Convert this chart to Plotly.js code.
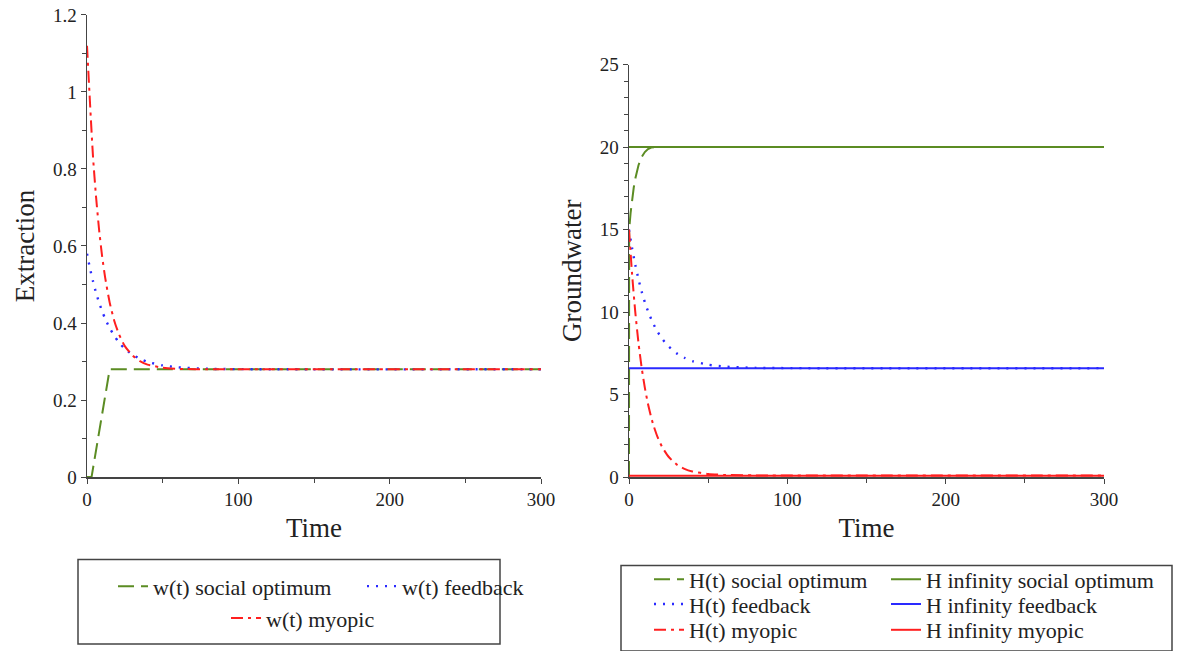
<!DOCTYPE html>
<html>
<head>
<meta charset="utf-8">
<script src="https://cdn.plot.ly/plotly-3.0.1.min.js"></script>
<style>
  html, body { margin: 0; padding: 0; background: #fff; }
  #chart { width: 1177px; height: 651px; }
</style>
</head>
<body>
<div id="chart"></div>
<script>
// ---------- Data ----------
// Left panel: extraction
const tWSocial = [0, 3, 15, 300];
const wSocial = [0, 0, 0.28, 0.28];

const tW = [0, 2, 4, 6, 8, 10, 12, 15, 18, 21, 25, 30, 35, 40, 50, 60, 80, 300];
const wFeedback = [0.58, 0.541, 0.508, 0.478, 0.453, 0.431, 0.411, 0.387, 0.367, 0.350, 0.333, 0.318, 0.307, 0.299, 0.290, 0.285, 0.281, 0.28];
const wMyopic = [1.12, 0.97, 0.83, 0.727, 0.642, 0.573, 0.518, 0.453, 0.406, 0.372, 0.340, 0.316, 0.301, 0.292, 0.284, 0.281, 0.28, 0.28];

// Right panel: groundwater
const tHSocial = [0, 0.1, 1, 2, 3, 4, 5, 6, 8, 10, 12, 14, 18, 30, 300];
const hSocial = [0, 15, 16.0, 16.85, 17.55, 18.1, 18.55, 18.9, 19.4, 19.7, 19.88, 19.97, 20, 20, 20];

const tH = [0, 2, 4, 6, 8, 10, 12, 15, 18, 21, 25, 30, 35, 40, 50, 60, 80, 300];
const hFeedback = [15, 13.84, 12.85, 11.99, 11.24, 10.6, 10.05, 9.36, 8.81, 8.37, 7.92, 7.51, 7.23, 7.03, 6.81, 6.70, 6.62, 6.6];
const hMyopic = [15, 12.23, 9.97, 8.13, 6.63, 5.42, 4.43, 3.27, 2.43, 1.81, 1.23, 0.77, 0.50, 0.34, 0.19, 0.13, 0.1, 0.1];

const tInf = [0, 300];
const hInfSocial = 20;
const hInfFeedback = 6.6;
const hInfMyopic = 0.08;

const xTicks = [0, 100, 200, 300];
const yTicksLeft = [0, 0.2, 0.4, 0.6, 0.8, 1, 1.2];
const yTicksRight = [0, 5, 10, 15, 20, 25];

// ---------- Styles ----------
const GREEN = '#5b8c23';
const BLUE = '#2a2aff';
const RED = '#ff1f1f';
const FONT = '"Liberation Serif", "Times New Roman", Times, serif';
const W = 1177, H = 651;
const px = v => v / W;
const py = v => (H - v) / H;

const traces = [
  {x: tWSocial, y: wSocial, name: 'w(t) social optimum', xaxis: 'x', yaxis: 'y',
   mode: 'lines', line: {color: GREEN, width: 2, dash: '16px,7px'}, legend: 'legend'},
  {x: tW, y: wFeedback, name: 'w(t) feedback', xaxis: 'x', yaxis: 'y',
   mode: 'lines', line: {color: BLUE, width: 2.4, dash: '2px,7px', shape: 'spline', smoothing: 0.6}, legend: 'legend2'},
  {x: tW, y: wMyopic, name: 'w(t) myopic', xaxis: 'x', yaxis: 'y',
   mode: 'lines', line: {color: RED, width: 2, dash: '12px,5px,3px,5px', shape: 'spline', smoothing: 0.6}, legend: 'legend3'},

  {x: tHSocial, y: hSocial, name: 'H(t) social optimum', xaxis: 'x2', yaxis: 'y2',
   mode: 'lines', line: {color: GREEN, width: 2, dash: '16px,7px'}, legend: 'legend4'},
  {x: tH, y: hFeedback, name: 'H(t) feedback', xaxis: 'x2', yaxis: 'y2',
   mode: 'lines', line: {color: BLUE, width: 2.4, dash: '2px,7px', shape: 'spline', smoothing: 0.6}, legend: 'legend5'},
  {x: tH, y: hMyopic, name: 'H(t) myopic', xaxis: 'x2', yaxis: 'y2',
   mode: 'lines', line: {color: RED, width: 2, dash: '12px,5px,3px,5px', shape: 'spline', smoothing: 0.6}, legend: 'legend6'},
  {x: tInf, y: tInf.map(() => hInfSocial), name: 'H infinity social optimum', xaxis: 'x2', yaxis: 'y2',
   mode: 'lines', line: {color: GREEN, width: 2}, legend: 'legend7'},
  {x: tInf, y: tInf.map(() => hInfFeedback), name: 'H infinity feedback', xaxis: 'x2', yaxis: 'y2',
   mode: 'lines', line: {color: BLUE, width: 2}, legend: 'legend8'},
  {x: tInf, y: tInf.map(() => hInfMyopic), name: 'H infinity myopic', xaxis: 'x2', yaxis: 'y2',
   mode: 'lines', line: {color: RED, width: 2}, legend: 'legend9'}
];

function xAxis(domain) {
  return {
    domain: domain, range: [0, 300], tickvals: xTicks, ticks: 'outside', ticklen: 5,
    tickcolor: '#444', showline: true, linecolor: '#444', linewidth: 1.5,
    showgrid: false, zeroline: false, fixedrange: true,
    minor: {dtick: 50, tick0: 0, ticks: 'outside', ticklen: 4, tickcolor: '#444', showgrid: false},
    tickfont: {family: FONT, size: 19, color: '#222'},
    title: {text: 'Time', font: {family: FONT, size: 27, color: '#222'}, standoff: 8}
  };
}
function yAxis(domain, range, vals, minorD, title, anchor) {
  return {
    domain: domain, range: range, tickvals: vals, ticks: 'outside', ticklen: 5, anchor: anchor,
    tickcolor: '#444', showline: true, linecolor: '#444', linewidth: 1.5,
    showgrid: false, zeroline: false, fixedrange: true,
    minor: {dtick: minorD, tick0: 0, ticks: 'outside', ticklen: 4, tickcolor: '#444', showgrid: false},
    tickfont: {family: FONT, size: 19, color: '#222'},
    title: {text: title, font: {family: FONT, size: 27, color: '#222'}, standoff: 10}
  };
}

function leg(textX, centerY) {
  return {
    x: px(textX - 40), y: py(centerY), xanchor: 'left', yanchor: 'middle',
    orientation: 'v', bgcolor: 'rgba(0,0,0,0)', borderwidth: 0,
    font: {family: FONT, size: 22, color: '#222'}
  };
}

const layout = {
  width: W, height: H,
  margin: {l: 0, r: 0, t: 0, b: 0},
  paper_bgcolor: '#fff', plot_bgcolor: '#fff',
  font: {family: FONT},
  showlegend: true,
  xaxis: Object.assign(xAxis([px(87), px(541)]), {anchor: 'y'}),
  yaxis: yAxis([py(480), py(15)], [0, 1.2], yTicksLeft, 0.1, 'Extraction', 'x'),
  xaxis2: Object.assign(xAxis([px(629), px(1104)]), {anchor: 'y2'}),
  yaxis2: yAxis([py(480), py(65)], [0, 25], yTicksRight, 1, 'Groundwater', 'x2'),
  legend: leg(153, 590),
  legend2: leg(402, 590),
  legend3: leg(266, 622),
  legend4: leg(689, 583),
  legend5: leg(689, 608),
  legend6: leg(689, 634),
  legend7: leg(926, 583),
  legend8: leg(926, 608),
  legend9: leg(926, 634),
  shapes: [
    {type: 'rect', xref: 'paper', yref: 'paper', x0: px(78), x1: px(500), y0: py(648), y1: py(563),
     line: {color: '#444', width: 1.5}, fillcolor: 'rgba(0,0,0,0)'},
    {type: 'rect', xref: 'paper', yref: 'paper', x0: px(621), x1: px(1172), y0: py(655), y1: py(569),
     line: {color: '#444', width: 1.5}, fillcolor: 'rgba(0,0,0,0)'}
  ]
};

Plotly.newPlot('chart', traces, layout, {staticPlot: true, displayModeBar: false});
</script>
</body>
</html>
